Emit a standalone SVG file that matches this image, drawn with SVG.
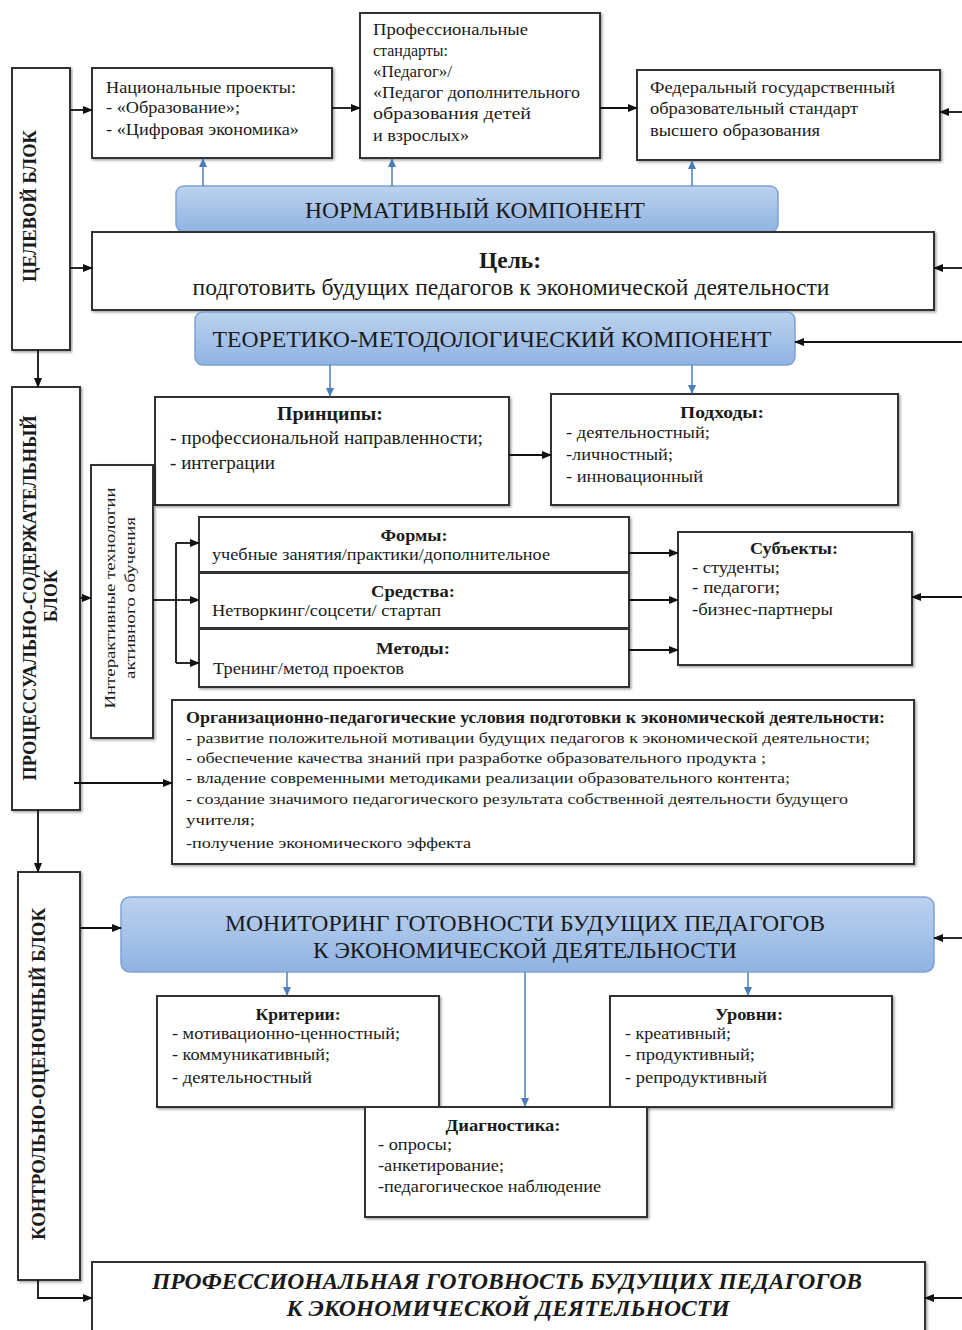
<svg xmlns="http://www.w3.org/2000/svg" width="962" height="1330" viewBox="0 0 962 1330">
<defs>
<linearGradient id="blueGrad" x1="0" y1="0" x2="0" y2="1">
<stop offset="0" stop-color="#bcd2ef"/>
<stop offset="1" stop-color="#8fb3e2"/>
</linearGradient>
<filter id="shadow" x="-5%" y="-5%" width="110%" height="115%">
<feDropShadow dx="1.5" dy="1.5" stdDeviation="1" flood-color="#000" flood-opacity="0.35"/>
</filter>
<marker id="ah" markerWidth="10" markerHeight="8" refX="9" refY="4" orient="auto" markerUnits="userSpaceOnUse">
<path d="M0,0 L10,4 L0,8 Z" fill="#111"/>
</marker>
<marker id="ahb" markerWidth="9" markerHeight="8" refX="8" refY="4" orient="auto" markerUnits="userSpaceOnUse">
<path d="M0,0 L9,4 L0,8 Z" fill="#4a7ebb"/>
</marker>
</defs>
<style>
.box{fill:#fff;stroke:#333;stroke-width:2;filter:url(#shadow)}
.blue{fill:url(#blueGrad);stroke:#7ea3d3;stroke-width:1.5}
.t{font-family:"Liberation Serif","Times New Roman",serif;fill:#1a1a1a}
.s{font-size:16px}
.b{font-weight:bold}
.c{text-anchor:middle}
.cap{font-size:24px}
.blk{font-size:18px;font-weight:bold;text-anchor:middle}
.bi{font-size:23px;font-weight:bold;font-style:italic;text-anchor:middle}
.ln{fill:none;stroke:#111;stroke-width:1.8;marker-end:url(#ah)}
.lnn{fill:none;stroke:#111;stroke-width:1.8}
.bl{fill:none;stroke:#4a7ebb;stroke-width:1.5;marker-end:url(#ahb)}
</style>

<g id="block-target">
<rect class="box" x="12" y="68" width="58" height="282"/>
<text class="t blk" transform="translate(36,206) rotate(-90)" textLength="152" lengthAdjust="spacingAndGlyphs">ЦЕЛЕВОЙ БЛОК</text>
</g>

<g id="block-process">
<rect class="box" x="12" y="387" width="68" height="423"/>
<text class="t blk" transform="translate(36,598) rotate(-90)" textLength="365" lengthAdjust="spacingAndGlyphs">ПРОЦЕССУАЛЬНО-СОДЕРЖАТЕЛЬНЫЙ</text>
<text class="t blk" transform="translate(57,596) rotate(-90)">БЛОК</text>
</g>

<g id="block-control">
<rect class="box" x="18" y="872" width="62" height="408"/>
<text class="t blk" transform="translate(45,1074) rotate(-90)" textLength="332" lengthAdjust="spacingAndGlyphs">КОНТРОЛЬНО-ОЦЕНОЧНЫЙ БЛОК</text>
</g>

<g id="national-projects">
<rect class="box" x="92" y="68" width="240" height="90"/>
<text class="t s" x="106" y="93" textLength="190" lengthAdjust="spacingAndGlyphs">Национальные проекты:</text>
<text class="t s" x="106" y="113" textLength="134" lengthAdjust="spacingAndGlyphs">- «Образование»;</text>
<text class="t s" x="106" y="135" textLength="193" lengthAdjust="spacingAndGlyphs">- «Цифровая экономика»</text>
</g>

<g id="prof-standards">
<rect class="box" x="360" y="13" width="240" height="145"/>
<text class="t s" x="373" y="35" textLength="155" lengthAdjust="spacingAndGlyphs">Профессиональные</text>
<text class="t s" x="373" y="56" textLength="75" lengthAdjust="spacingAndGlyphs">стандарты:</text>
<text class="t s" x="373" y="77" textLength="79" lengthAdjust="spacingAndGlyphs">«Педагог»/</text>
<text class="t s" x="373" y="98" textLength="207" lengthAdjust="spacingAndGlyphs">«Педагог дополнительного</text>
<text class="t s" x="373" y="119" textLength="158" lengthAdjust="spacingAndGlyphs">образования детей</text>
<text class="t s" x="373" y="141" textLength="96" lengthAdjust="spacingAndGlyphs">и взрослых»</text>
</g>

<g id="fgos">
<rect class="box" x="637" y="70" width="303" height="90"/>
<text class="t s" x="650" y="93" textLength="245" lengthAdjust="spacingAndGlyphs">Федеральный государственный</text>
<text class="t s" x="650" y="114" textLength="208" lengthAdjust="spacingAndGlyphs">образовательный стандарт</text>
<text class="t s" x="650" y="136" textLength="170" lengthAdjust="spacingAndGlyphs">высшего образования</text>
</g>

<g id="normative">
<rect class="blue" x="176" y="186" width="602" height="46" rx="8"/>
<text class="t cap c" x="475" y="218" textLength="340" lengthAdjust="spacingAndGlyphs">НОРМАТИВНЫЙ  КОМПОНЕНТ</text>
</g>

<g id="goal">
<rect class="box" x="92" y="232" width="842" height="78"/>
<text class="t b c" x="510" y="268" font-size="24" textLength="62" lengthAdjust="spacingAndGlyphs">Цель:</text>
<text class="t c" x="511" y="295" font-size="23" textLength="637" lengthAdjust="spacingAndGlyphs">подготовить будущих педагогов к экономической деятельности</text>
</g>

<g id="theory">
<rect class="blue" x="195" y="312" width="600" height="53" rx="8"/>
<text class="t cap c" x="492" y="347" textLength="559" lengthAdjust="spacingAndGlyphs">ТЕОРЕТИКО-МЕТОДОЛОГИЧЕСКИЙ  КОМПОНЕНТ</text>
</g>

<g id="principles">
<rect class="box" x="155" y="397" width="354" height="108"/>
<text class="t b c" x="330" y="420" font-size="19" textLength="106" lengthAdjust="spacingAndGlyphs">Принципы:</text>
<text class="t" x="170" y="444" font-size="18" textLength="313" lengthAdjust="spacingAndGlyphs">- профессиональной  направленности;</text>
<text class="t" x="170" y="469" font-size="18" textLength="105" lengthAdjust="spacingAndGlyphs">- интеграции</text>
</g>

<g id="approaches">
<rect class="box" x="551" y="394" width="347" height="111"/>
<text class="t b c" x="722" y="418" font-size="17" textLength="84" lengthAdjust="spacingAndGlyphs">Подходы:</text>
<text class="t s" x="566" y="438" textLength="144" lengthAdjust="spacingAndGlyphs">- деятельностный;</text>
<text class="t s" x="566" y="460" textLength="107" lengthAdjust="spacingAndGlyphs">-личностный;</text>
<text class="t s" x="566" y="482" textLength="137" lengthAdjust="spacingAndGlyphs">- инновационный</text>
</g>

<g id="interactive">
<rect class="box" x="91" y="465" width="62" height="273"/>
<text class="t c" transform="translate(115,598) rotate(-90)" font-size="15" textLength="221" lengthAdjust="spacingAndGlyphs">Интерактивные технологии</text>
<text class="t c" transform="translate(135,598) rotate(-90)" font-size="15" textLength="162" lengthAdjust="spacingAndGlyphs">активного обучения</text>
</g>

<g id="forms">
<rect class="box" x="199" y="517" width="430" height="55"/>
<text class="t b c" x="414" y="541" font-size="16" textLength="67" lengthAdjust="spacingAndGlyphs">Формы:</text>
<text class="t s" x="212" y="560" textLength="338" lengthAdjust="spacingAndGlyphs">учебные занятия/практики/дополнительное</text>
</g>

<g id="means">
<rect class="box" x="199" y="573" width="430" height="55"/>
<text class="t b c" x="413" y="597" font-size="16" textLength="84" lengthAdjust="spacingAndGlyphs">Средства:</text>
<text class="t s" x="212" y="616" textLength="229" lengthAdjust="spacingAndGlyphs">Нетворкинг/соцсети/ стартап</text>
</g>

<g id="methods">
<rect class="box" x="199" y="629" width="430" height="58"/>
<text class="t b c" x="413" y="654" font-size="16" textLength="74" lengthAdjust="spacingAndGlyphs">Методы:</text>
<text class="t s" x="213" y="674" textLength="191" lengthAdjust="spacingAndGlyphs">Тренинг/метод проектов</text>
</g>

<g id="subjects">
<rect class="box" x="678" y="532" width="234" height="133"/>
<text class="t b c" x="794" y="554" font-size="16" textLength="88" lengthAdjust="spacingAndGlyphs">Субъекты:</text>
<text class="t s" x="692" y="573" textLength="88" lengthAdjust="spacingAndGlyphs">- студенты;</text>
<text class="t s" x="692" y="593" textLength="88" lengthAdjust="spacingAndGlyphs">- педагоги;</text>
<text class="t s" x="692" y="615" textLength="141" lengthAdjust="spacingAndGlyphs">-бизнес-партнеры</text>
</g>

<g id="conditions">
<rect class="box" x="172" y="700" width="742" height="164"/>
<text class="t b" x="186" y="723" font-size="16" textLength="699" lengthAdjust="spacingAndGlyphs">Организационно-педагогические условия подготовки к экономической деятельности:</text>
<text class="t" x="186" y="743" font-size="15" textLength="684" lengthAdjust="spacingAndGlyphs">- развитие положительной мотивации будущих педагогов к экономической деятельности;</text>
<text class="t" x="186" y="763" font-size="15" textLength="580" lengthAdjust="spacingAndGlyphs">- обеспечение качества знаний при разработке образовательного продукта ;</text>
<text class="t" x="186" y="783" font-size="15" textLength="604" lengthAdjust="spacingAndGlyphs">- владение современными методиками реализации образовательного контента;</text>
<text class="t" x="186" y="804" font-size="15" textLength="662" lengthAdjust="spacingAndGlyphs">- создание значимого педагогического результата собственной деятельности будущего</text>
<text class="t" x="186" y="825" font-size="15" textLength="69" lengthAdjust="spacingAndGlyphs">учителя;</text>
<text class="t" x="186" y="848" font-size="15" textLength="285" lengthAdjust="spacingAndGlyphs">-получение экономического эффекта</text>
</g>

<g id="monitoring">
<rect class="blue" x="121" y="897" width="813" height="75" rx="9"/>
<text class="t cap c" x="525" y="931" textLength="600" lengthAdjust="spacingAndGlyphs">МОНИТОРИНГ  ГОТОВНОСТИ  БУДУЩИХ ПЕДАГОГОВ</text>
<text class="t cap c" x="525" y="958" textLength="424" lengthAdjust="spacingAndGlyphs">К ЭКОНОМИЧЕСКОЙ  ДЕЯТЕЛЬНОСТИ</text>
</g>

<g id="criteria">
<rect class="box" x="157" y="996" width="282" height="111"/>
<text class="t b c" x="298" y="1020" font-size="16" textLength="85" lengthAdjust="spacingAndGlyphs">Критерии:</text>
<text class="t s" x="172" y="1039" textLength="228" lengthAdjust="spacingAndGlyphs">- мотивационно-ценностный;</text>
<text class="t s" x="172" y="1060" textLength="158" lengthAdjust="spacingAndGlyphs">- коммуникативный;</text>
<text class="t s" x="172" y="1083" textLength="140" lengthAdjust="spacingAndGlyphs">- деятельностный</text>
</g>

<g id="levels">
<rect class="box" x="610" y="996" width="282" height="111"/>
<text class="t b c" x="749" y="1020" font-size="16" textLength="68" lengthAdjust="spacingAndGlyphs">Уровни:</text>
<text class="t s" x="625" y="1039" textLength="106" lengthAdjust="spacingAndGlyphs">- креативный;</text>
<text class="t s" x="625" y="1060" textLength="130" lengthAdjust="spacingAndGlyphs">- продуктивный;</text>
<text class="t s" x="625" y="1083" textLength="142" lengthAdjust="spacingAndGlyphs">- репродуктивный</text>
</g>

<g id="diagnostics">
<rect class="box" x="365" y="1107" width="282" height="110"/>
<text class="t b c" x="503" y="1131" font-size="16" textLength="115" lengthAdjust="spacingAndGlyphs">Диагностика:</text>
<text class="t s" x="378" y="1150" textLength="74" lengthAdjust="spacingAndGlyphs">- опросы;</text>
<text class="t s" x="378" y="1171" textLength="126" lengthAdjust="spacingAndGlyphs">-анкетирование;</text>
<text class="t s" x="378" y="1192" textLength="223" lengthAdjust="spacingAndGlyphs">-педагогическое наблюдение</text>
</g>

<g id="result">
<rect class="box" x="92" y="1262" width="833" height="80"/>
<text class="t bi" x="507" y="1289" textLength="710" lengthAdjust="spacingAndGlyphs">ПРОФЕССИОНАЛЬНАЯ  ГОТОВНОСТЬ  БУДУЩИХ ПЕДАГОГОВ</text>
<text class="t bi" x="508" y="1316" textLength="443" lengthAdjust="spacingAndGlyphs">К ЭКОНОМИЧЕСКОЙ  ДЕЯТЕЛЬНОСТИ</text>
</g>

<g id="connectors">
<line class="ln" x1="70" y1="110" x2="92" y2="110"/>
<line class="ln" x1="332" y1="108" x2="360" y2="108"/>
<line class="ln" x1="600" y1="108" x2="637" y2="108"/>
<line class="ln" x1="962" y1="112" x2="940" y2="112"/>
<line class="ln" x1="70" y1="268" x2="92" y2="268"/>
<line class="ln" x1="962" y1="268" x2="934" y2="268"/>
<line class="ln" x1="962" y1="342" x2="795" y2="342"/>
<line class="ln" x1="38" y1="350" x2="38" y2="387"/>
<line class="ln" x1="38" y1="810" x2="38" y2="872"/>
<polyline class="ln" points="38,1280 38,1298 92,1298"/>
<line class="ln" x1="962" y1="1298" x2="925" y2="1298"/>
<line class="ln" x1="962" y1="938" x2="934" y2="938"/>
<line class="ln" x1="80" y1="928" x2="121" y2="928"/>
<line class="ln" x1="509" y1="455" x2="551" y2="455"/>
<line class="ln" x1="80" y1="598" x2="91" y2="598"/>
<line class="lnn" x1="153" y1="600" x2="176" y2="600"/>
<line class="lnn" x1="176" y1="543" x2="176" y2="663"/>
<line class="ln" x1="176" y1="543" x2="199" y2="543"/>
<line class="ln" x1="176" y1="600" x2="199" y2="600"/>
<line class="ln" x1="176" y1="663" x2="199" y2="663"/>
<line class="ln" x1="629" y1="553" x2="678" y2="553"/>
<line class="ln" x1="629" y1="600" x2="678" y2="600"/>
<line class="ln" x1="629" y1="650" x2="678" y2="650"/>
<line class="ln" x1="962" y1="597" x2="912" y2="597"/>
<line class="ln" x1="74" y1="783" x2="172" y2="783"/>
<line class="bl" x1="203" y1="186" x2="203" y2="159"/>
<line class="bl" x1="392" y1="186" x2="392" y2="159"/>
<line class="bl" x1="692" y1="186" x2="692" y2="161"/>
<line class="bl" x1="330" y1="365" x2="330" y2="396"/>
<line class="bl" x1="692" y1="365" x2="692" y2="393"/>
<line class="bl" x1="287" y1="972" x2="287" y2="995"/>
<line class="bl" x1="525" y1="972" x2="525" y2="1106"/>
<line class="bl" x1="748" y1="972" x2="748" y2="995"/>
</g>
</svg>
